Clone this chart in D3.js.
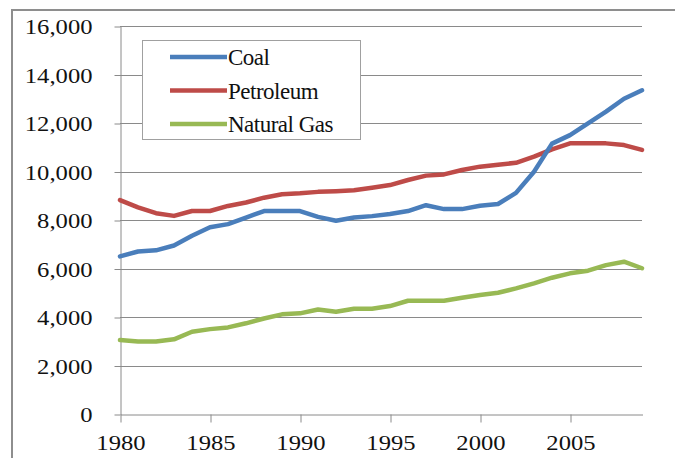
<!DOCTYPE html>
<html>
<head>
<meta charset="utf-8">
<script src="https://cdn.jsdelivr.net/npm/d3@7"></script>
<style>
  body { margin: 0; background: #fff; }
  svg { display: block; }
  .serif { font-family: "Liberation Serif", "DejaVu Serif", "Times New Roman", Times, serif; }
</style>
</head>
<body>
<div class="canvas"></div>
<script>
// data
const years = d3.range(1980, 2010)
const coal = [6500, 6700, 6750, 6950, 7350, 7700, 7830, 8100, 8370, 8370,
              8370, 8130, 7970, 8100, 8160, 8250, 8370, 8610, 8450, 8450,
              8590, 8660, 9120, 9990, 11150, 11500, 11980, 12470, 13000, 13350]
const petroleum = [8820, 8520, 8280, 8170, 8370, 8370, 8580, 8720, 8920, 9060,
                   9100, 9160, 9190, 9230, 9330, 9440, 9650, 9830, 9880, 10060,
                   10200, 10280, 10360, 10610, 10910, 11160, 11160, 11160, 11090, 10890]
const naturalGas = [3050, 2990, 2990, 3080, 3390, 3500, 3570, 3740, 3940, 4110,
                    4150, 4310, 4220, 4340, 4340, 4450, 4670, 4670, 4670, 4790,
                    4910, 5000, 5180, 5390, 5620, 5800, 5910, 6140, 6280, 6010]
const yTicks = d3.range(0, 16001, 2000)
const xTicks = [1980, 1985, 1990, 1995, 2000, 2005]

const series = [
    { name: "Coal", values: coal, color: "#4a7ebb", width: 42 },
    { name: "Petroleum", values: petroleum, color: "#be4b48", width: 100 },
    { name: "Natural Gas", values: naturalGas, color: "#98b954", width: 107 }
]

const dims = { width: 675, height: 458 }
const svg = d3.select(".canvas")
    .append("svg")
    .attr("width", dims.width)
    .attr("height", dims.height)

// outer chart frame (top and left edges visible)
svg.append("path")
    .attr("d", "M12,459 V10 H676")
    .attr("fill", "none")
    .attr("stroke", "#8e8e8e")
    .attr("stroke-width", 2)

const x = d3.scaleLinear().domain([1980, 2009]).range([120, 642])
const y = d3.scaleLinear().domain([0, 16000]).range([414, 26])

// gridlines
svg.append("g")
    .selectAll("line")
    .data(yTicks.filter(d => d > 0))
    .enter()
    .append("line")
    .attr("x1", x(1980))
    .attr("x2", x(2009))
    .attr("y1", d => Math.round(y(d)) + 0.5)
    .attr("y2", d => Math.round(y(d)) + 0.5)
    .attr("stroke", "#8a8a8a")
    .attr("stroke-width", 1)

svg.append("g")
    .attr("transform", `translate(${x(1980) + 0.5}, 0.5)`)
    .call(d3.axisLeft(y)
        .tickValues(yTicks)
        .tickSize(6)
        .tickSizeOuter(0)
        .tickPadding(22)
        .tickFormat(d3.format(",")))

svg.append("g")
    .attr("transform", `translate(0.5, ${y(0) + 0.5})`)
    .call(d3.axisBottom(x)
        .tickValues(xTicks)
        .tickSize(8)
        .tickSizeOuter(0)
        .tickPadding(12)
        .tickFormat(d3.format("d")))

svg.selectAll(".domain, .tick line").attr("stroke", "#8a8a8a")
svg.selectAll("g[font-family]").attr("font-family", null).attr("font-size", null)
svg.selectAll(".tick text")
    .attr("class", "serif")
    .attr("fill", "#111")
    .attr("font-size", 22)
    .attr("transform", "scale(1.12, 1)")
    .attr("x", function () { return +d3.select(this).attr("x") / 1.12 })

// lines
const line = d3.line()
    .x((d, i) => x(years[i]))
    .y(d => y(d))

svg.append("g")
    .selectAll("path")
    .data(series.slice().reverse())
    .enter()
    .append("path")
    .attr("d", d => line(d.values))
    .attr("fill", "none")
    .attr("stroke", d => d.color)
    .attr("stroke-width", 4.5)
    .attr("stroke-linejoin", "round")
    .attr("stroke-linecap", "round")

// legend
const legend = svg.append("g")
legend.append("rect")
    .attr("x", 142.5)
    .attr("y", 40.5)
    .attr("width", 218)
    .attr("height", 99)
    .attr("fill", "#fff")
    .attr("stroke", "#a0a0a0")

const items = legend.selectAll(".item")
    .data(series)
    .enter()
    .append("g")
    .attr("class", "item")
    .attr("transform", (d, i) => `translate(228, ${57 + i * 33.5})`)

items.append("line")
    .attr("x1", 170 - 228)
    .attr("x2", -1)
    .attr("stroke", d => d.color)
    .attr("stroke-width", 4.5)

// condensed legend labels: squeeze each to the width seen in the reference
items.append("g")
    .attr("class", "label")
    .append("text")
    .attr("class", "serif")
    .attr("y", 8)
    .attr("font-size", 23)
    .attr("fill", "#111")
    .attr("letter-spacing", -0.5)
    .text(d => d.name)

items.select(".label").each(function (d) {
    const w = this.getBBox().width
    const k = w > 0 ? Math.min(1, d.width / w) : 1
    d3.select(this).attr("transform", `scale(${k}, 1)`)
})
</script>
</body>
</html>
